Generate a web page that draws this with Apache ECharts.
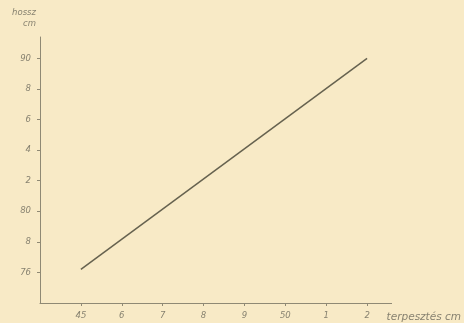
<!DOCTYPE html>
<html>
<head>
<meta charset="utf-8">
<script src="https://cdn.jsdelivr.net/npm/echarts@6/dist/echarts.min.js"></script>
<style>
  html, body { margin: 0; padding: 0; background: #f8eac6; }
  #chart { width: 464px; height: 323px; }
</style>
</head>
<body>
<div id="chart"></div>
<script>
// terpesztés (cm) -> hossz (cm)
const spanCm = [45, 52];
const lengthCm = [76.2, 90];

// rövidített tengelyfeliratok, ahogy a rajzon
const xTickLabels = { 45: "45", 46: "6", 47: "7", 48: "8", 49: "9", 50: "50", 51: "1", 52: "2" };
const yTickLabels = { 76: "76", 78: "8", 80: "80", 82: "2", 84: "4", 86: "6", 88: "8", 90: "90" };

const inkColor = "#66624f";
const textColor = "#878270";
const axisColor = "#8f8974";

const labelStyle = {
  color: textColor,
  fontFamily: "DejaVu Sans",
  fontStyle: "italic",
  fontSize: 8.5,
};

const option = {
  backgroundColor: "#f8eac6",
  animation: false,
  grid: { left: 40, top: 37, right: 72, bottom: 20 },
  xAxis: {
    type: "value",
    min: 44,
    max: 52.6,
    interval: 1,
    name: "terpesztés cm",
    nameLocation: "end",
    nameGap: -5,
    nameTextStyle: { ...labelStyle, fontSize: 10.5, align: "left", verticalAlign: "top", padding: [9, 0, 0, 0] },
    axisLine: { lineStyle: { color: axisColor, width: 1 } },
    axisTick: { length: 3, lineStyle: { color: axisColor } },
    splitLine: { show: false },
    axisLabel: {
      ...labelStyle,
      margin: 8,
      showMinLabel: false,
      showMaxLabel: false,
      formatter: (v) => xTickLabels[v] || "",
    },
  },
  yAxis: {
    type: "value",
    min: 74,
    max: 91.4,
    interval: 2,
    name: "hossz\ncm",
    nameLocation: "end",
    nameGap: 8,
    nameTextStyle: { ...labelStyle, align: "right", lineHeight: 11, padding: [0, 4, 0, 0] },
    axisLine: { show: true, lineStyle: { color: axisColor, width: 1 } },
    axisTick: { show: true, length: 3, lineStyle: { color: axisColor } },
    splitLine: { show: false },
    axisLabel: {
      ...labelStyle,
      margin: 9,
      showMinLabel: false,
      showMaxLabel: false,
      formatter: (v) => yTickLabels[v] || "",
    },
  },
  series: [
    {
      type: "line",
      data: spanCm.map((x, i) => [x, lengthCm[i]]),
      symbol: "none",
      lineStyle: { color: inkColor, width: 1.5 },
    },
  ],
};

const myChart = echarts.init(document.getElementById("chart"));
myChart.setOption(option);
</script>
</body>
</html>
